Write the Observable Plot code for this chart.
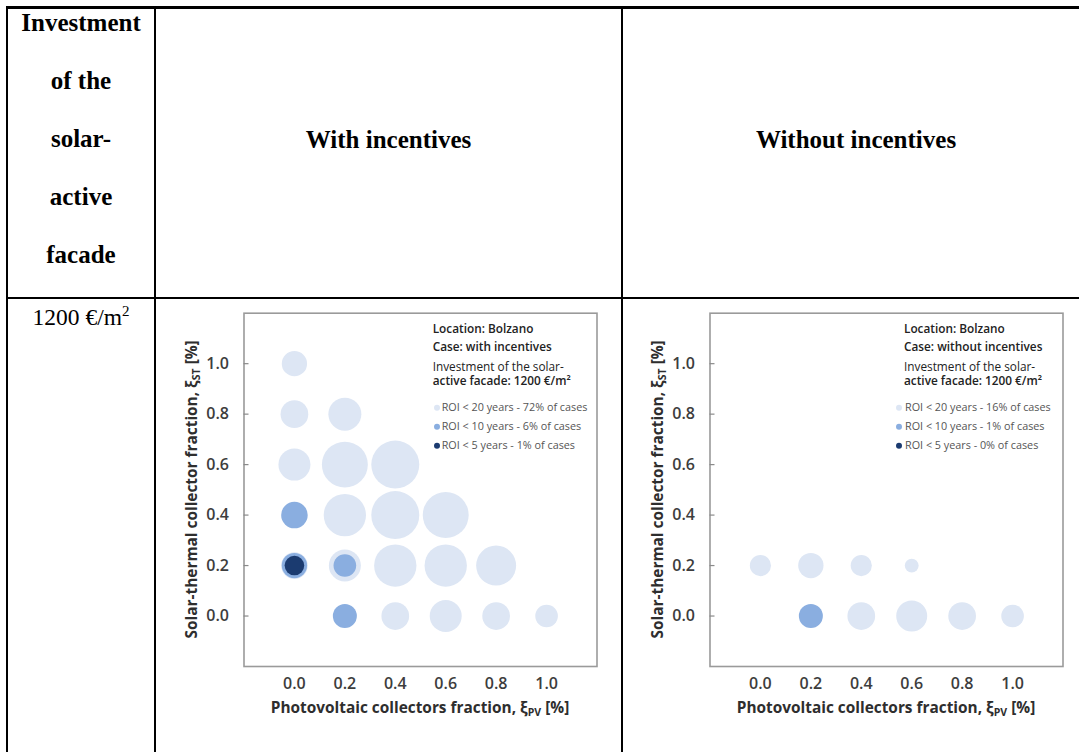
<!DOCTYPE html>
<html>
<head>
<meta charset="utf-8">
<script src="https://cdn.jsdelivr.net/npm/d3@7"></script>
<script src="https://cdn.jsdelivr.net/npm/@observablehq/plot@0.6"></script>
<style>
  body { margin: 0; background: #fff; width: 1079px; height: 752px; overflow: hidden; position: relative;
         font-family: "Liberation Serif", "Times New Roman", serif; color: #000; }
  .rule { position: absolute; background: #000; }
  .cell { position: absolute; text-align: center; font-size: 25px; line-height: 58px; font-weight: bold; white-space: nowrap; }
  .value { position: absolute; text-align: center; font-size: 23.5px; line-height: 30px; white-space: nowrap; }
  svg.bubble { position: absolute; top: 300px; }
</style>
</head>
<body>
<!-- table grid -->
<div class="rule" style="left:6px;top:6px;width:1090px;height:3px"></div>
<div class="rule" style="left:6px;top:297px;width:1090px;height:2px"></div>
<div class="rule" style="left:6px;top:6px;width:2px;height:760px"></div>
<div class="rule" style="left:154px;top:6px;width:2px;height:760px"></div>
<div class="rule" style="left:621px;top:6px;width:2px;height:760px"></div>

<!-- header row -->
<div class="cell" style="left:8px;width:146px;top:-5.8px">Investment<br>of the<br>solar-<br>active<br>facade</div>
<div class="cell" style="left:156px;width:465px;top:110.6px">With incentives</div>
<div class="cell" style="left:623px;width:466px;top:110.6px">Without incentives</div>

<!-- first column of the data row -->
<div class="value" style="left:8px;width:146px;top:296px">1200 €/m<sup style="font-size:15px">2</sup></div>

<script>
// ROI classes, drawn from the lightest (largest) to the darkest
const roiClasses = ["ROI < 20 years", "ROI < 10 years", "ROI < 5 years"];
const roiColors = ["#dde6f4", "#8aaee0", "#1b3b70"];
const fractionTicks = [0.0, 0.2, 0.4, 0.6, 0.8, 1.0];
const siteName = "Bolzano";
const facadeInvestment = 1200;

// each entry: [photovoltaic fraction, solar-thermal fraction, number of cases]
const withIncentivesROI20 = [
  [0.0, 1.0, 10], [0.0, 0.8, 12], [0.2, 0.8, 17],
  [0.0, 0.6, 16], [0.2, 0.6, 33], [0.4, 0.6, 36],
  [0.2, 0.4, 28], [0.4, 0.4, 36], [0.6, 0.4, 33],
  [0.0, 0.2, 11], [0.2, 0.2, 16], [0.4, 0.2, 28], [0.6, 0.2, 28], [0.8, 0.2, 25],
  [0.4, 0.0, 12], [0.6, 0.0, 16], [0.8, 0.0, 12], [1.0, 0.0, 8]
];
const withIncentivesROI10 = [[0.0, 0.4, 11], [0.0, 0.2, 10], [0.2, 0.2, 8], [0.2, 0.0, 9]];
const withIncentivesROI5 = [[0.0, 0.2, 6]];
const withIncentivesShare = [72, 6, 1];

const withoutIncentivesROI20 = [
  [0.0, 0.2, 7], [0.2, 0.2, 10], [0.4, 0.2, 7], [0.6, 0.2, 3],
  [0.4, 0.0, 12], [0.6, 0.0, 15], [0.8, 0.0, 12], [1.0, 0.0, 8]
];
const withoutIncentivesROI10 = [[0.2, 0.0, 9]];
const withoutIncentivesROI5 = [];
const withoutIncentivesShare = [16, 1, 0];

const sansFont = "'Open Sans', 'DejaVu Sans', sans-serif";

function bubbleChart({left, caseLabel, series, share, legend}) {
  const rows = series.flatMap((list, i) =>
    list.map(([pv, st, cases]) => ({pv, st, cases, roi: roiClasses[i]})));

  const width = 459, height = 450;
  const marginLeft = 85.5, marginRight = 20.5, marginTop = 12.7, marginBottom = 84;

  const plot = Plot.plot({
    width, height, marginLeft, marginRight, marginTop, marginBottom,
    style: {fontFamily: sansFont, fontSize: "16px", background: "transparent", overflow: "visible"},
    x: {domain: [-0.2, 1.2]},
    y: {domain: [-0.2, 1.2]},
    r: {type: "sqrt", domain: [0, 36], range: [0, 24]},
    color: {domain: roiClasses, range: roiColors},
    marks: [
      Plot.dot(rows, {x: "pv", y: "st", r: "cases", fill: "roi", sort: null}),
      Plot.frame({stroke: "#9a9a9a", strokeWidth: 1.6}),
      // short tick marks pointing into the frame
      Plot.axisY(fractionTicks, {
        tickSize: 5, dx: 5, tickFormat: () => "", stroke: "#8a8a8a", strokeWidth: 1.2, label: null
      }),
      Plot.axisY(fractionTicks, {
        tickSize: 0, tickPadding: 15, tickFormat: d3.format(".1f"),
        color: "#3d3d3d", fontSize: 16, fontWeight: 600, label: null
      }),
      Plot.axisX(fractionTicks, {
        tickSize: 0, tickPadding: 11, tickFormat: d3.format(".1f"),
        color: "#3d3d3d", fontSize: 16, fontWeight: 600, label: null
      })
    ]
  });
  plot.classList.add("bubble");
  plot.style.left = left + "px";

  const svg = d3.select(plot);
  const fx0 = marginLeft, fx1 = width - marginRight;
  const fy0 = marginTop, fy1 = height - marginBottom;

  // axis titles with subscripts
  const title = (g, text, sub) => {
    g.append("tspan").text(text);
    g.append("tspan").attr("font-size", "10.5px").attr("dy", 4).text(sub);
    g.append("tspan").attr("dy", -4).text(" [%]");
  };
  title(svg.append("text")
      .attr("x", (fx0 + fx1) / 2).attr("y", fy1 + 42.5)
      .attr("text-anchor", "middle").attr("dominant-baseline", "middle")
      .attr("font-family", sansFont).attr("font-size", "15.4px").attr("font-weight", 700).attr("fill", "#2e2e2e"),
    "Photovoltaic collectors fraction, ξ", "PV");
  title(svg.append("text")
      .attr("transform", `translate(${fx0 - 51},${(fy0 + fy1) / 2}) rotate(-90)`)
      .attr("text-anchor", "middle").attr("dominant-baseline", "middle")
      .attr("font-family", sansFont).attr("font-size", "15.4px").attr("font-weight", 700).attr("fill", "#2e2e2e"),
    "Solar-thermal collector fraction, ξ", "ST");

  // legend block in the upper right corner of the frame
  const g = svg.append("g").attr("font-family", sansFont).attr("text-anchor", "start");
  const head = [
    [`Location: ${siteName}`, 30, 600],
    [`Case: ${caseLabel}`, 48.3, 600],
    ["Investment of the solar-", 67.6, 500],
    [`active facade: ${facadeInvestment} €/m²`, 82, 600]
  ];
  head.forEach(([t, y, w]) => g.append("text")
    .attr("x", fx1 + legend.head).attr("y", y).attr("dominant-baseline", "middle")
    .attr("font-size", "11.8px").attr("font-weight", w).attr("fill", "#222").text(t));
  const itemY = [107.7, 126.7, 145.7];
  roiClasses.forEach((c, i) => {
    g.append("circle").attr("cx", fx1 + legend.dot).attr("cy", itemY[i]).attr("r", 3).attr("fill", roiColors[i]);
    g.append("text")
      .attr("x", fx1 + legend.item).attr("y", itemY[i]).attr("dominant-baseline", "middle")
      .attr("font-size", "10.8px").attr("fill", "#555")
      .text(`${c} - ${share[i]}% of cases`);
  });

  document.body.appendChild(plot);
}

bubbleChart({
  left: 158, caseLabel: "with incentives",
  series: [withIncentivesROI20, withIncentivesROI10, withIncentivesROI5],
  share: withIncentivesShare,
  legend: {head: -163.8, dot: -159.5, item: -154.8}
});
bubbleChart({
  left: 624, caseLabel: "without incentives",
  series: [withoutIncentivesROI20, withoutIncentivesROI10, withoutIncentivesROI5],
  share: withoutIncentivesShare,
  legend: {head: -158.5, dot: -163.5, item: -157.5}
});
</script>
</body>
</html>
